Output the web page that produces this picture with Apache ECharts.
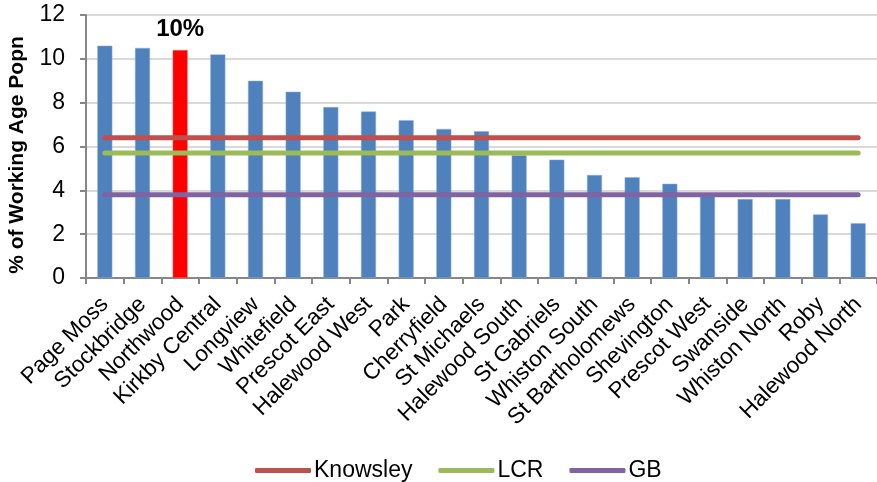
<!DOCTYPE html>
<html>
<head>
<meta charset="utf-8">
<script src="https://cdn.jsdelivr.net/npm/echarts@6/dist/echarts.min.js"></script>
<style>html,body{margin:0;padding:0;background:#fff;}#c{width:877px;height:482px;}</style>
</head>
<body>
<div id="c"></div>
<script>
var categories = ['Page Moss','Stockbridge','Northwood','Kirkby Central','Longview','Whitefield','Prescot East','Halewood West','Park','Cherryfield','St Michaels','Halewood South','St Gabriels','Whiston South','St Bartholomews','Shevington','Prescot West','Swanside','Whiston North','Roby','Halewood North'];
var wardValues = [10.6,10.5,10.4,10.2,9.0,8.5,7.8,7.6,7.2,6.8,6.7,5.6,5.4,4.7,4.6,4.3,3.8,3.6,3.6,2.9,2.5];
var knowsley = [6.4,6.4,6.4,6.4,6.4,6.4,6.4,6.4,6.4,6.4,6.4,6.4,6.4,6.4,6.4,6.4,6.4,6.4,6.4,6.4,6.4];
var lcr = [5.7,5.7,5.7,5.7,5.7,5.7,5.7,5.7,5.7,5.7,5.7,5.7,5.7,5.7,5.7,5.7,5.7,5.7,5.7,5.7,5.7];
var gb = [3.8,3.8,3.8,3.8,3.8,3.8,3.8,3.8,3.8,3.8,3.8,3.8,3.8,3.8,3.8,3.8,3.8,3.8,3.8,3.8,3.8];
var yTicks = [0,2,4,6,8,10,12];
var highlightWard = 'Northwood';
var highlightLabel = '10%';
var yAxisTitle = '% of Working Age Popn';

var font = 'Liberation Sans, Arial, sans-serif';
var chart = echarts.init(document.getElementById('c'), null, {renderer:'canvas'});

var barData = wardValues.map(function(v, i){
  if (categories[i] === highlightWard) {
    return {value: v, itemStyle:{color:'#FF0000', borderColor:'#FF6666'},
      label:{show:true, position:'top', formatter: highlightLabel, distance: 9,
        fontSize:24, fontWeight:'bold', color:'#000', fontFamily:font}};
  }
  return v;
});

function lineSeries(name, data, color){
  return {name:name, type:'line', data:data, symbol:'none', z:3,
    lineStyle:{color:color, width:5, cap:'round'}, itemStyle:{color:color},
    animation:false};
}

chart.setOption({
  animation:false,
  textStyle:{fontFamily:font},
  grid:{left:86, top:15, width:796, bottom:204, containLabel:false},
  legend:{
    data:['Knowsley','LCR','GB'], left:250, top:454,
    icon:'roundRect', itemWidth:56, itemHeight:5, itemGap:26,
    textStyle:{fontSize:23, color:'#000', fontFamily:font, padding:[0,0,0,-2]}
  },
  graphic:[{
    type:'text', x:17, y:155, rotation:Math.PI/2,
    style:{text:yAxisTitle, font:'bold 21px Liberation Sans, Arial, sans-serif', fill:'#000',
      textAlign:'center', textVerticalAlign:'middle'}
  }],
  xAxis:{
    type:'category', data:categories,
    axisLine:{lineStyle:{color:'#868686', width:2}},
    axisTick:{show:true, length:6, lineStyle:{color:'#868686', width:2}},
    axisLabel:{interval:0, rotate:45, fontSize:22.5, color:'#000', margin:23, fontFamily:font}
  },
  yAxis:{
    type:'value', min:yTicks[0], max:yTicks[yTicks.length-1], interval:2,
    axisLine:{show:true, lineStyle:{color:'#868686', width:2}},
    axisTick:{show:true, length:6, lineStyle:{color:'#868686', width:2}},
    axisLabel:{fontSize:23, color:'#000', margin:21, fontFamily:font},
    splitLine:{lineStyle:{color:'#D9D9D9', width:2}}
  },
  series:[
    {name:'Wards', type:'bar', data:barData, barWidth:15, z:2,
     itemStyle:{color:'#4F81BD', borderColor:'#8FB0D8', borderWidth:0.5}},
    lineSeries('Knowsley', knowsley, '#C0504D'),
    lineSeries('LCR', lcr, '#9BBB59'),
    lineSeries('GB', gb, '#8064A2')
  ]
});
</script>
</body>
</html>
